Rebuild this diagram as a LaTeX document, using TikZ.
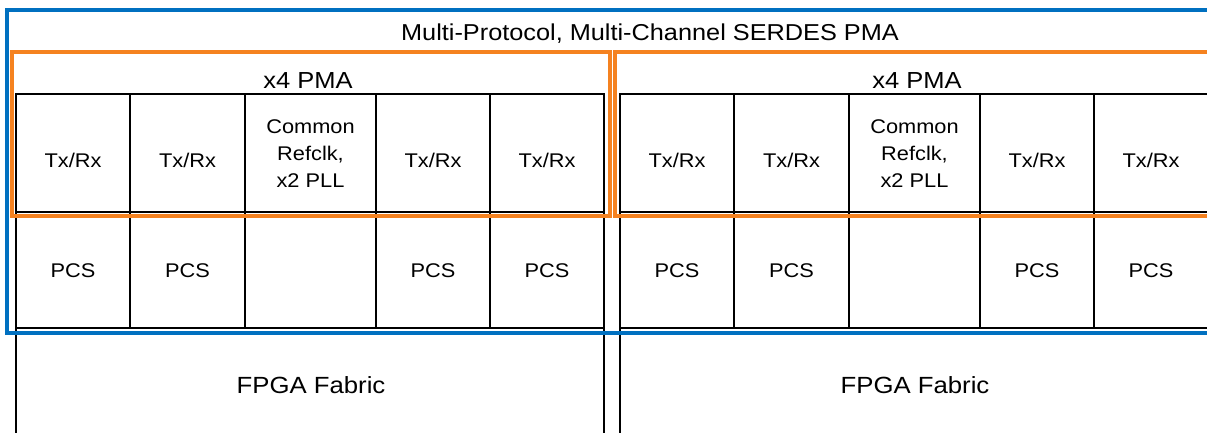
\documentclass[tikz,border=0pt]{standalone}
\usepackage{fontspec}
\setmainfont[FakeStretch=1.1]{Liberation Sans}
\definecolor{pmablue}{RGB}{0,112,192}
\definecolor{pmaorange}{RGB}{245,130,32}
\begin{document}
\begin{tikzpicture}[x=1pt,y=-1pt,
  cell/.style={draw=black,line width=1.4pt,inner sep=0pt,outer sep=0pt,rectangle},
  lbl/.style={inner sep=0pt,anchor=base,font=\fontsize{19.8}{23}\selectfont},
  hdr/.style={inner sep=0pt,anchor=base,font=\fontsize{23.2}{26}\selectfont},
  ttl/.style={inner sep=0pt,anchor=base,font=\fontsize{23}{26}\selectfont},
  fab/.style={inner sep=0pt,anchor=base,font=\fontsize{23.4}{26}\selectfont},
  bluebox/.style={draw=pmablue,line width=3.2pt,inner sep=0pt,outer sep=0pt,rectangle},
  orangebox/.style={draw=pmaorange,line width=3.2pt,inner sep=0pt,outer sep=0pt,rectangle}]
\useasboundingbox (0,0) rectangle (1207,432);
\fill[white] (0,0) rectangle (1207,432);
% two tables
\foreach \t/\o in {a/0,b/604}{
  % top row
  \node[cell,minimum width=114pt,minimum height=118pt] (\t t1) at (73+\o,153) {};
  \node[cell,minimum width=115pt,minimum height=118pt] (\t t2) at (187.5+\o,153) {};
  \node[cell,minimum width=131pt,minimum height=118pt] (\t t3) at (310.5+\o,153) {};
  \node[cell,minimum width=114pt,minimum height=118pt] (\t t4) at (433+\o,153) {};
  \node[cell,minimum width=114pt,minimum height=118pt] (\t t5) at (547+\o,153) {};
  % PCS row
  \node[cell,minimum width=114pt,minimum height=116pt] (\t p1) at (73+\o,270) {};
  \node[cell,minimum width=115pt,minimum height=116pt] (\t p2) at (187.5+\o,270) {};
  \node[cell,minimum width=131pt,minimum height=116pt] (\t p3) at (310.5+\o,270) {};
  \node[cell,minimum width=114pt,minimum height=116pt] (\t p4) at (433+\o,270) {};
  \node[cell,minimum width=114pt,minimum height=116pt] (\t p5) at (547+\o,270) {};
  % fabric
  \node[cell,minimum width=588pt,minimum height=140pt] (\t fab) at (310+\o,398) {};
  % labels
  \node[lbl] (\t l1) at (73+\o,167) {Tx/Rx};
  \node[lbl] (\t l2) at (187.5+\o,167) {Tx/Rx};
  \node[lbl] (\t c1) at (310.5+\o,133) {Common};
  \node[lbl] (\t c2) at (310.5+\o,160) {Refclk,};
  \node[lbl] (\t c3) at (310.5+\o,187) {x2 PLL};
  \node[lbl] (\t l4) at (433+\o,167) {Tx/Rx};
  \node[lbl] (\t l5) at (547+\o,167) {Tx/Rx};
  \node[lbl] (\t q1) at (73+\o,277) {PCS};
  \node[lbl] (\t q2) at (187.5+\o,277) {PCS};
  \node[lbl] (\t q4) at (433+\o,277) {PCS};
  \node[lbl] (\t q5) at (547+\o,277) {PCS};
  \node[fab] (\t ft) at (311+\o,393) {FPGA Fabric};
}
% coloured frames
\node[orangebox,minimum width=598pt,minimum height=164pt] (or1) at (311,134) {};
\node[orangebox,minimum width=615pt,minimum height=164pt] (or2) at (922.5,134) {};
\node[bluebox,minimum width=1223pt,minimum height=323pt] (bl) at (618.5,171.5) {};
% headings
\node[ttl] (title) at (650,40) {Multi-Protocol, Multi-Channel SERDES PMA};
\node[hdr] (h1) at (308,88) {x4 PMA};
\node[hdr] (h2) at (917,88) {x4 PMA};
\end{tikzpicture}
\end{document}
